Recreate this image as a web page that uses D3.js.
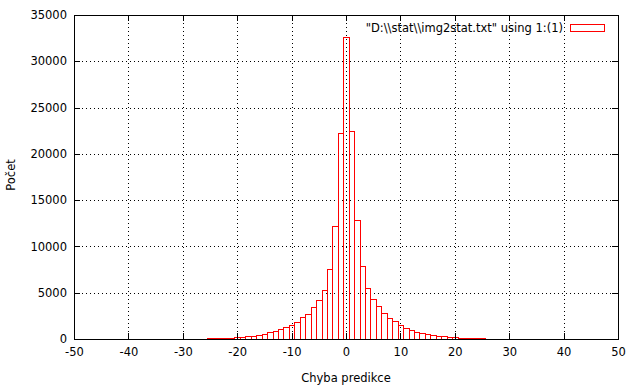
<!DOCTYPE html>
<html>
<head>
<meta charset="utf-8">
<script src="https://cdn.jsdelivr.net/npm/d3@7"></script>
<style>
  body { margin: 0; background: #fff; }
  text { font-family: "DejaVu Sans", sans-serif; font-size: 11.5px; fill: #000; }
</style>
</head>
<body>
<svg id="chart" width="640" height="387"></svg>
<script>
// histogram bins (prediction error) and counts
var bins = [-25, -24, -23, -22, -21, -20, -19, -18, -17, -16, -15, -14, -13, -12, -11, -10, -9, -8, -7, -6,
    -5, -4, -3, -2, -1, 0, 1, 2, 3, 4, 5, 6, 7, 8, 9, 10, 11, 12, 13, 14, 15, 16, 17, 18, 19, 20, 21, 22, 23, 24, 25];
var counts = [70, 70, 75, 80, 90, 180, 220, 300, 340, 430, 580, 750, 860, 1080, 1300, 1510, 1840, 2380, 2670, 3460,
    4210, 5290, 7560, 12200, 22200, 32600, 22500, 12850, 7890, 5500, 4320, 3560, 2810, 2270, 1940, 1510, 1190, 970, 760, 650,
    540, 430, 330, 300, 220, 180, 90, 80, 75, 70, 70];
var xTicks = [-50, -40, -30, -20, -10, 0, 10, 20, 30, 40, 50];
var yTicks = [0, 5000, 10000, 15000, 20000, 25000, 30000, 35000];
var legendLabel = '"D:\\\\stat\\\\img2stat.txt" using 1:(1)';

var data = bins.map(function(b, i) { return {bin: b, count: counts[i]}; });

var svg = d3.select("#chart");
var mLeft = 74, mRight = 618, mTop = 15, mBottom = 339;
var width = mRight - mLeft, height = mBottom - mTop;

var x = d3.scaleLinear().domain([-50, 50]).range([0, width]);
var y = d3.scaleLinear().domain([0, 35000]).range([height, 0]);

var g = svg.append("g").attr("transform", "translate(" + mLeft + "," + mTop + ")");

// dotted grid
g.append("g").selectAll("line").data(xTicks.slice(1, -1)).enter().append("line")
    .attr("x1", function(d) { return Math.round(x(d)) + 0.5; })
    .attr("x2", function(d) { return Math.round(x(d)) + 0.5; })
    .attr("y1", 0).attr("y2", height)
    .attr("stroke", "#000").attr("stroke-dasharray", "1,3");
g.append("g").selectAll("line").data(yTicks.slice(1, -1)).enter().append("line")
    .attr("y1", function(d) { return Math.round(y(d)) + 0.5; })
    .attr("y2", function(d) { return Math.round(y(d)) + 0.5; })
    .attr("x1", 0).attr("x2", width)
    .attr("stroke", "#000").attr("stroke-dasharray", "1,3");

// boxes
g.selectAll(".bar")
    .data(data)
    .enter()
    .append("rect")
    .attr("class", "bar")
    .attr("x", function(d) { return Math.round(x(d.bin - 0.5)) + 0.5; })
    .attr("width", function(d) { return Math.round(x(d.bin + 0.5)) - Math.round(x(d.bin - 0.5)); })
    .attr("y", function(d) { return Math.round(y(d.count)) + 0.5; })
    .attr("height", function(d) { return height - Math.round(y(d.count)); })
    .attr("fill", "none")
    .attr("stroke", "red")
    .attr("stroke-width", 1)
    .attr("shape-rendering", "crispEdges");

// axes with inward ticks, mirrored on top and right
var fmt = function(d) { return String(d); };
var xAxis = d3.axisBottom(x).tickValues(xTicks).tickSizeInner(-6).tickSizeOuter(0).tickPadding(9).tickFormat(fmt);
var yAxis = d3.axisLeft(y).tickValues(yTicks).tickSizeInner(-6).tickSizeOuter(0).tickPadding(7).tickFormat(fmt);

g.append("g").attr("transform", "translate(0," + height + ")").call(xAxis);
g.append("g").call(yAxis);
g.append("g").call(d3.axisTop(x).tickValues(xTicks).tickSizeInner(-6).tickSizeOuter(0).tickFormat(""));
g.append("g").attr("transform", "translate(" + width + ",0)")
    .call(d3.axisRight(y).tickValues(yTicks).tickSizeInner(-6).tickSizeOuter(0).tickFormat(""));

g.selectAll(".domain").remove();
g.selectAll(".tick line").attr("stroke", "#000").attr("shape-rendering", "crispEdges");
g.selectAll(".tick text").style("font-family", "DejaVu Sans").style("font-size", "11.5px").attr("fill", "#000");

g.append("rect")
    .attr("x", 0.5).attr("y", 0.5)
    .attr("width", width).attr("height", height)
    .attr("fill", "none").attr("stroke", "#000").attr("shape-rendering", "crispEdges");

// axis titles
svg.append("text")
    .attr("x", mLeft + width / 2).attr("y", 382)
    .attr("text-anchor", "middle")
    .text("Chyba predikce");
svg.append("text")
    .attr("transform", "translate(15," + (mTop + height / 2 - 2) + ") rotate(-90)")
    .attr("text-anchor", "middle")
    .text("Počet");

// legend
svg.append("text")
    .attr("x", 563).attr("y", 32)
    .attr("text-anchor", "end")
    .text(legendLabel);
svg.append("rect")
    .attr("x", 570.5).attr("y", 24.5)
    .attr("width", 34).attr("height", 7)
    .attr("fill", "none").attr("stroke", "red").attr("shape-rendering", "crispEdges");
</script>
</body>
</html>
